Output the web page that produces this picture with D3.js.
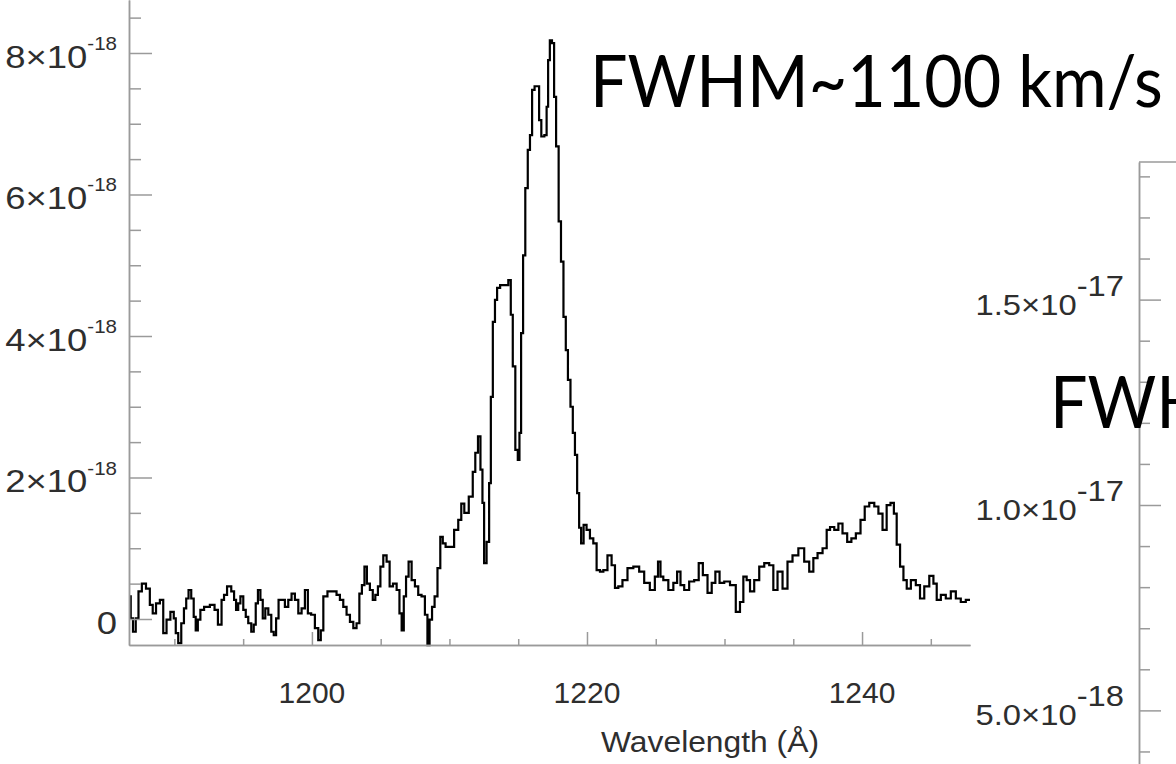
<!DOCTYPE html>
<html><head><meta charset="utf-8">
<script src="https://cdn.jsdelivr.net/npm/d3@7"></script>
<style>body{margin:0;background:#fff;overflow:hidden}</style>
</head><body>
<svg id="chart" width="1176" height="764"></svg>
<script>
// Spectrum (wavelength in Å, flux in units of 1e-18)
const wavelength = [1186.76,1186.89,1187.09,1187.29,1187.49,1187.78,1188.09,1188.34,1188.51,1188.82,
1189.07,1189.31,1189.55,1189.87,1190.04,1190.16,1190.40,1190.60,1190.79,1190.93,
1191.13,1191.32,1191.49,1191.61,1191.80,1191.98,1192.34,1192.82,1193.02,1193.31,
1193.55,1193.67,1193.99,1194.28,1194.40,1194.57,1194.71,1194.89,1195.13,1195.25,
1195.49,1195.69,1195.85,1195.98,1196.17,1196.34,1196.51,1196.71,1196.95,1197.14,
1197.31,1197.48,1197.67,1197.91,1198.16,1198.40,1198.64,1198.89,1199.13,1199.37,
1199.61,1199.80,1200.09,1200.34,1200.58,1200.71,1200.95,1201.31,1201.67,1201.91,
1202.16,1202.40,1202.64,1202.89,1203.13,1203.36,1203.54,1203.73,1203.91,1204.09,
1204.34,1204.51,1204.71,1204.89,1205.07,1205.31,1205.55,1205.75,1206.04,1206.28,
1206.45,1206.60,1206.76,1206.93,1207.13,1207.37,1207.61,1207.85,1208.09,1208.34,
1208.46,1208.65,1208.82,1209.02,1209.24,1209.43,1209.60,1209.84,1210.16,1210.52,
1210.76,1210.96,1211.20,1211.61,1211.78,1211.98,1212.17,1212.34,1212.46,1212.58,
1212.82,1212.95,1213.07,1213.24,1213.38,1213.55,1213.82,1214.16,1214.40,1214.52,
1214.69,1214.89,1215.05,1215.13,1215.29,1215.42,1215.61,1215.78,1215.93,1216.09,
1216.29,1216.46,1216.58,1216.78,1217.02,1217.11,1217.24,1217.36,1217.55,1217.67,
1217.84,1218.04,1218.18,1218.40,1218.52,1218.71,1218.89,1219.05,1219.20,1219.37,
1219.49,1219.66,1219.85,1220.09,1220.34,1220.58,1220.82,1221.07,1221.31,1221.67,
1221.91,1222.16,1222.40,1222.76,1223.13,1223.61,1223.98,1224.34,1224.80,1225.07,
1225.26,1225.43,1225.67,1226.16,1226.40,1226.71,1226.89,1227.25,1227.61,1227.98,
1228.27,1228.58,1228.95,1229.19,1229.48,1229.80,1230.16,1230.64,1231.00,1231.25,
1231.49,1231.73,1231.98,1232.34,1232.71,1233.07,1233.43,1233.67,1234.04,1234.40,
1234.76,1235.13,1235.61,1235.98,1236.34,1236.58,1236.95,1237.31,1237.55,1237.80,
1238.16,1238.40,1238.76,1239.08,1239.37,1239.73,1240.05,1240.34,1240.71,1241.07,
1241.31,1241.67,1241.91,1242.23,1242.40,1242.64,1242.89,1243.13,1243.37,1243.73,
1244.09,1244.34,1244.71,1245.07,1245.31,1245.55,1245.91,1246.27,1246.64,1247.00,
1247.36,1247.73,1247.95];
const flux = [0.32,0.01,-0.18,0.01,0.39,0.50,0.43,0.20,0.08,0.22,
0.27,-0.20,-0.01,0.10,0.01,-0.20,-0.34,-0.06,0.15,0.29,
0.41,0.29,0.03,-0.16,-0.01,0.13,0.17,0.20,0.13,-0.08,
0.27,0.34,0.46,0.39,0.27,0.13,0.22,0.32,0.13,0.03,
-0.06,-0.18,-0.08,0.22,0.41,0.27,0.01,0.15,0.06,-0.18,
-0.23,0.01,0.27,0.27,0.17,0.27,0.36,0.27,0.08,0.15,
0.41,0.08,0.06,-0.13,-0.30,-0.16,0.32,0.39,0.39,0.34,
0.27,0.17,0.06,-0.04,-0.13,-0.06,0.36,0.48,0.74,0.50,
0.41,0.27,0.34,0.46,0.74,0.90,0.81,0.46,0.50,0.41,
0.08,-0.16,0.32,0.60,0.81,0.55,0.46,0.34,0.32,0.06,
-0.37,-0.01,0.17,0.32,0.72,1.16,1.07,1.02,1.02,1.26,
1.40,1.63,1.50,1.73,2.08,2.35,2.58,2.11,1.64,0.79,
1.09,1.92,3.14,4.20,4.51,4.68,4.72,4.72,4.79,4.30,
3.57,2.39,2.25,2.63,4.04,5.14,6.09,6.63,6.84,7.48,
7.53,7.53,7.05,6.82,6.84,7.24,7.90,8.18,8.14,7.38,
6.68,5.62,5.05,4.27,3.80,3.38,3.00,2.63,2.32,1.78,
1.29,1.07,1.33,1.26,1.14,1.07,0.69,0.67,0.69,0.90,
0.76,0.44,0.46,0.55,0.72,0.74,0.67,0.51,0.41,0.60,
0.81,0.60,0.55,0.41,0.51,0.67,0.48,0.41,0.53,0.55,
0.79,0.62,0.37,0.51,0.67,0.51,0.53,0.48,0.10,0.24,
0.60,0.55,0.39,0.55,0.74,0.79,0.76,0.41,0.67,0.43,
0.81,0.90,1.00,0.81,0.67,0.86,0.93,1.00,1.26,1.30,
1.26,1.35,1.21,1.09,1.14,1.21,1.40,1.59,1.64,1.59,
1.49,1.26,1.61,1.64,1.49,1.05,0.74,0.55,0.43,0.55,
0.48,0.29,0.46,0.61,0.50,0.27,0.34,0.29,0.39,0.29,
0.24,0.27,0.27];

// Left panel axes
const xDomain = [1186.7, 1247.85];
const yDomain = [-0.3675, 8.749];
const xMajorTicks = [1200, 1220, 1240];
const xMinorTicks = [1190, 1195, 1205, 1210, 1215, 1225, 1230, 1235, 1245];
const yMajorTicks = [0, 2, 4, 6, 8];
const yMinorTicks = [0.5,1,1.5,2.5,3,3.5,4.5,5,5.5,6.5,7,7.5,8.5];
const yLabelBase = ["0", "2×10", "4×10", "6×10", "8×10"];
const yLabelExp  = ["", "-18", "-18", "-18", "-18"];
const xLabel = "Wavelength (Å)";
const title1 = "FWHM~1100 km/s";

// Right (partial) panel axis, units of 1e-18
const rDomain = [3.5, 18.35];
const rMajorTicks = [5, 10, 15];
const rMinorTicks = [4,6,7,8,9,11,12,13,14,16,17,18];
const rLabelBase = ["5.0×10", "1.0×10", "1.5×10"];
const rLabelExp  = ["-18", "-17", "-17"];
const title2 = "FWHM";

const svg = d3.select("#chart");
const axisColor = "#9a9a9a", labelColor = "#2e2e2e";
const LABEL_FONT = "'Liberation Sans', Arial, Helvetica, sans-serif";
const TITLE_FONT = "Lato, 'Open Sans', sans-serif";

// ---------- Left panel ----------
const L = {left: 129, right: 970, top: 0, bottom: 645};
const x = d3.scaleLinear().domain(xDomain).range([L.left, L.right]);
const y = d3.scaleLinear().domain(yDomain).range([L.bottom, L.top]);

svg.append("defs").append("clipPath").attr("id", "clipL")
  .append("rect").attr("x", L.left).attr("y", L.top)
  .attr("width", L.right - L.left).attr("height", L.bottom - L.top + 2);

const data = wavelength.map((w, i) => [w, flux[i]]);
svg.append("path").datum(data)
  .attr("clip-path", "url(#clipL)")
  .attr("fill", "none").attr("stroke", "#000").attr("stroke-width", 2.2)
  .attr("stroke-linejoin", "miter")
  .attr("d", d3.line().x(d => x(d[0])).y(d => y(d[1])).curve(d3.curveStep));

function styleAxis(g) {
  g.select(".domain").attr("stroke", axisColor).attr("stroke-width", 1.5);
  g.selectAll(".tick line").attr("stroke", axisColor).attr("stroke-width", 1.5);
  g.selectAll(".tick text").remove();
}

// y axis (ticks inward)
svg.append("g").attr("transform", `translate(${L.left},0)`)
  .call(d3.axisRight(y).tickValues(yMajorTicks).tickSize(23).tickSizeOuter(0).tickFormat(""))
  .call(styleAxis);
svg.append("g").attr("transform", `translate(${L.left},0)`)
  .call(d3.axisRight(y).tickValues(yMinorTicks).tickSize(12).tickSizeOuter(0).tickFormat(""))
  .call(styleAxis);

// x axis (ticks inward)
svg.append("g").attr("transform", `translate(0,${L.bottom})`)
  .call(d3.axisTop(x).tickValues(xMajorTicks).tickSize(13).tickSizeOuter(0).tickFormat(""))
  .call(styleAxis);
svg.append("g").attr("transform", `translate(0,${L.bottom})`)
  .call(d3.axisTop(x).tickValues(xMinorTicks).tickSize(6).tickSizeOuter(0).tickFormat(""))
  .call(styleAxis);

// x tick labels
svg.append("g").selectAll("text").data(xMajorTicks).join("text")
  .attr("x", d => x(d)).attr("y", 703)
  .attr("text-anchor", "middle")
  .attr("font-family", LABEL_FONT).attr("font-size", 30)
  .attr("fill", labelColor).text(d => d);

svg.append("text").attr("transform", "translate(710,752) scale(1.06,1)")
  .attr("text-anchor", "middle")
  .attr("font-family", LABEL_FONT).attr("font-size", 30)
  .attr("fill", labelColor).text(xLabel);

// y tick labels
const yl = svg.append("g").selectAll("text").data(yMajorTicks).join("text")
  .attr("transform", d => `translate(117,${y(d) + 15}) scale(1.14,1)`)
  .attr("text-anchor", "end")
  .attr("font-family", LABEL_FONT).attr("font-size", 32)
  .attr("fill", labelColor);
yl.append("tspan").text((d, i) => yLabelBase[i]);
yl.append("tspan").attr("dy", -18).attr("font-size", 18).text((d, i) => yLabelExp[i]);

// title (fit to measured width via horizontal scale)
const t1 = svg.append("text").attr("x", 0).attr("y", 0)
  .attr("font-family", TITLE_FONT).attr("font-size", 72)
  .attr("fill", "#000").text(title1);
const t1len = t1.node().getComputedTextLength();
t1.attr("transform", `translate(590,107) scale(${573 / t1len},1)`);

// ---------- Right (partial) panel ----------
const R = {left: 1139, top: 162, bottom: 764};
svg.append("rect").attr("x", R.left).attr("y", R.top).attr("width", 1176 - R.left).attr("height", 764 - R.top).attr("fill", "#fff");
const yr = d3.scaleLinear().domain(rDomain).range([R.bottom + 8, R.top]);
svg.append("g").attr("transform", `translate(${R.left},0)`)
  .call(d3.axisRight(yr).tickValues(rMajorTicks).tickSize(22).tickSizeOuter(0).tickFormat(""))
  .call(styleAxis);
svg.append("g").attr("transform", `translate(${R.left},0)`)
  .call(d3.axisRight(yr).tickValues(rMinorTicks).tickSize(11).tickSizeOuter(0).tickFormat(""))
  .call(styleAxis);
svg.append("line").attr("x1", R.left).attr("x2", 1176).attr("y1", R.top).attr("y2", R.top)
  .attr("stroke", axisColor).attr("stroke-width", 1.5);

const rl = svg.append("g").selectAll("text").data(rMajorTicks).join("text")
  .attr("transform", d => `translate(1124,${yr(d) + 15}) scale(1.13,1)`)
  .attr("text-anchor", "end")
  .attr("font-family", LABEL_FONT).attr("font-size", 29)
  .attr("fill", labelColor);
rl.append("tspan").text((d, i) => rLabelBase[i]);
rl.append("tspan").attr("dy", -19).attr("font-size", 29).text((d, i) => rLabelExp[i]);

// second panel title, clipped by the picture edge as in the original
const t2 = svg.append("text").attr("x", 0).attr("y", 0)
  .attr("font-family", TITLE_FONT).attr("font-size", 72)
  .attr("fill", "#000").text(title2);
t2.attr("transform", `translate(1050,428) scale(${573 / t1len},1)`);
</script>
</body></html>
